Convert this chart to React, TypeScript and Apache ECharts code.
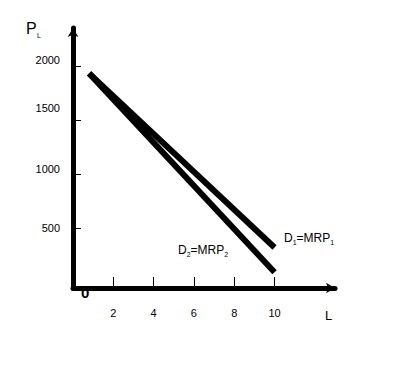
import React, { useEffect, useRef } from "react";
import * as echarts from "echarts";

const d1Points: [number, number][] = [[0.8, 1930], [10, 320]];
const d2Points: [number, number][] = [[0.8, 1930], [10, 90]];
const xTicks = [2, 4, 6, 8, 10];
const yTicks = [500, 1000, 1500, 2000];
const yLabelPos = [500, 1050, 1610, 2050];

const FONT = "'Liberation Sans', Arial, sans-serif";

export default function App() {
  const ref = useRef<HTMLDivElement>(null);
  useEffect(() => {
    if (!ref.current) return;
    const chart = echarts.init(ref.current, null, { renderer: "svg" });
    const sub = (t: number) => ({ fontSize: 7, fontFamily: FONT, color: "#000", padding: [t, 0, 0, 0] });
    chart.setOption({
      animation: false,
      backgroundColor: "#fff",
      grid: { left: 73, right: 78, top: 28, bottom: 85, containLabel: false },
      xAxis: {
        type: "value",
        min: 0,
        max: 13,
        splitLine: { show: false },
        axisLine: { show: true, onZero: false, symbol: ["none", "arrow"], symbolSize: [8, 9], lineStyle: { color: "#000", width: 5 } },
        axisTick: { show: true, inside: true, length: 11, customValues: xTicks, lineStyle: { color: "#000", width: 1 } },
        axisLabel: { customValues: xTicks, margin: 19, fontSize: 11, fontFamily: FONT, color: "#000" },
      },
      yAxis: {
        type: "value",
        min: -55,
        max: 2350,
        splitLine: { show: false },
        axisLine: { show: true, onZero: false, symbol: ["none", "arrow"], symbolSize: [8, 9], lineStyle: { color: "#000", width: 5 } },
        axisTick: { show: true, inside: true, length: 8, customValues: yTicks, lineStyle: { color: "#000", width: 1 } },
        axisLabel: {
          customValues: yLabelPos,
          margin: 13,
          fontSize: 11,
          fontFamily: FONT,
          color: "#000",
          formatter: (v: number) => String(Math.round(v / 500) * 500),
        },
      },
      series: [
        { type: "line", data: d1Points, symbol: "none", lineStyle: { color: "#000", width: 6 } },
        { type: "line", data: d2Points, symbol: "none", lineStyle: { color: "#000", width: 6 } },
      ],
      graphic: [
        { type: "text", left: 26, top: 20, style: { text: "P", fontSize: 16, fontFamily: FONT, fill: "#000" } },
        { type: "text", left: 37, top: 32, style: { text: "L", fontSize: 7, fontFamily: FONT, fill: "#000" } },
        { type: "text", left: 81, top: 285, z: 10, style: { text: "0", fontSize: 15, fontFamily: FONT, fill: "#000", fontWeight: "bold" } },
        { type: "text", left: 325, top: 309, style: { text: "L", fontSize: 13, fontFamily: FONT, fill: "#000" } },
        {
          type: "text",
          left: 178,
          top: 244,
          style: {
            text: "{a|D}{b|2}{a|=MRP}{b|2}",
            rich: { a: { fontSize: 12, fontFamily: FONT, color: "#000" }, b: sub(8) },
          },
        },
        {
          type: "text",
          left: 284,
          top: 232,
          style: {
            text: "{a|D}{b|1}{a|=MRP}{b|1}",
            rich: { a: { fontSize: 12, fontFamily: FONT, color: "#000" }, b: sub(8) },
          },
        },
      ],
    });
    return () => chart.dispose();
  }, []);
  return <div ref={ref} style={{ position: "fixed", left: 0, top: 0, width: 413, height: 373 }} />;
}
